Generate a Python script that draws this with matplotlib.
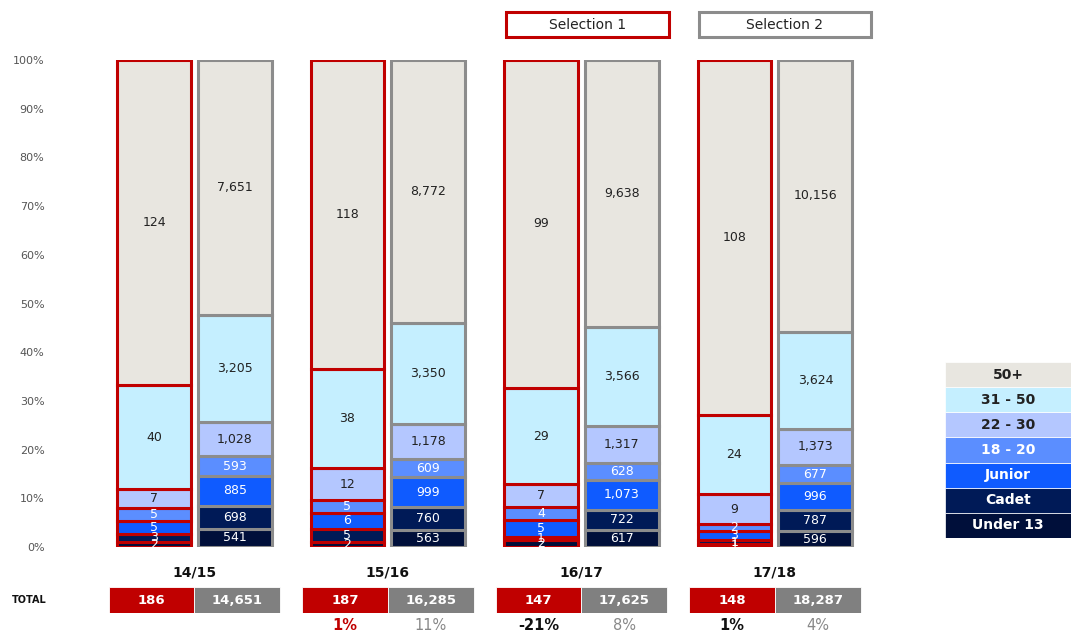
import matplotlib
matplotlib.use("Agg")
import matplotlib.pyplot as plt
from matplotlib.patches import Rectangle
import numpy as np

# age bands, bottom to top
bands = ["Under 13", "Cadet", "Junior", "18 - 20", "22 - 30", "31 - 50", "50+"]
band_colors = ["#000F3A", "#001A57", "#0F5BFF", "#5B8EFF", "#B4C7FF", "#C5EFFF", "#E8E6E0"]
band_text = ["white", "white", "white", "white", "#222222", "#222222", "#222222"]

seasons = ["14/15", "15/16", "16/17", "17/18"]

# Selection 1 counts per season (bottom to top)
sel1 = [
    [2, 3, 5, 5, 7, 40, 124],
    [2, 5, 6, 5, 12, 38, 118],
    [2, 1, 5, 4, 7, 29, 99],
    [1, 1, 3, 2, 9, 24, 108],
]
# Selection 2 counts per season (bottom to top)
sel2 = [
    [541, 698, 885, 593, 1028, 3205, 7651],
    [563, 760, 999, 609, 1178, 3350, 8772],
    [617, 722, 1073, 628, 1317, 3566, 9638],
    [596, 787, 996, 677, 1373, 3624, 10156],
]
total1 = [186, 187, 147, 148]
total2 = [14651, 16285, 17625, 18287]
pct1_colors = ["#C00000", "#111111", "#111111"]

RED = "#C00000"
GREY = "#8C8C8C"

W, H = 1071, 632
fig = plt.figure(figsize=(W / 100, H / 100), dpi=100)

# main axes: pixel x 100..880, y 60..547
ax = fig.add_axes([100 / W, (H - 547) / H, 780 / W, 487 / H])
ax.set_xlim(-0.488, 3.543)
ax.set_ylim(0, 1)
for s in ax.spines.values():
    s.set_visible(False)
ax.set_xticks([])
ax.set_yticks(np.arange(0, 1.01, 0.1))
ax.set_yticklabels([f"{int(round(t * 100))}%" for t in np.arange(0, 1.01, 0.1)])
ax.tick_params(axis="y", length=0, pad=40, labelsize=8, labelcolor="#555555")

x = np.arange(len(seasons))
bw = 0.382
off = 0.209

for data, sign, edge in [(sel1, -1, RED), (sel2, 1, GREY)]:
    for i, vals in enumerate(data):
        tot = sum(vals)
        bottom = 0.0
        for j, v in enumerate(vals):
            h = v / tot
            ax.bar(x[i] + sign * off, h, bw, bottom=bottom, color=band_colors[j],
                   edgecolor=edge, linewidth=2.2)
            ax.text(x[i] + sign * off, bottom + h / 2, f"{v:,}", ha="center", va="center",
                    fontsize=9, color=band_text[j])
            bottom += h

# season labels
for i, s in enumerate(seasons):
    fig.text((100 + (x[i] + 0.488) * 193.5) / W, (H - 573) / H, s, ha="center", va="center",
             fontsize=10, fontweight="bold", color="#111111")

# totals row
tax = fig.add_axes([100 / W, (H - 613) / H, 780 / W, 26 / H])
tax.set_xlim(-0.488, 3.543)
tax.set_ylim(0, 1)
tax.axis("off")
tw = 0.444
tax.bar(x - tw / 2, 1, tw, color=RED, edgecolor="white", linewidth=0.6)
tax.bar(x + tw / 2, 1, tw, color="#808080", edgecolor="white", linewidth=0.6)
for i in range(len(seasons)):
    tax.text(x[i] - tw / 2, 0.5, f"{total1[i]:,}", ha="center", va="center",
             fontsize=9.5, fontweight="bold", color="white")
    tax.text(x[i] + tw / 2, 0.5, f"{total2[i]:,}", ha="center", va="center",
             fontsize=9.5, fontweight="bold", color="white")
fig.text(12 / W, (H - 600) / H, "TOTAL", ha="left", va="center", fontsize=7,
         fontweight="bold", color="#111111")

# year-on-year change
for i in range(1, len(seasons)):
    p1 = total1[i] / total1[i - 1] - 1
    p2 = total2[i] / total2[i - 1] - 1
    tax.text(x[i] - tw / 2, -0.5, f"{p1:.0%}", ha="center", va="center", fontsize=10.5,
             fontweight="bold", color=pct1_colors[i - 1], clip_on=False)
    tax.text(x[i] + tw / 2, -0.5, f"{p2:.0%}", ha="center", va="center", fontsize=10.5,
             color="#888888", clip_on=False)

# selection key boxes
for (x0, x1, label, col) in [(506, 669, "Selection 1", RED), (699, 871, "Selection 2", GREY)]:
    fig.add_artist(Rectangle((x0 / W, (H - 37) / H), (x1 - x0) / W, 25 / H,
                             transform=fig.transFigure, facecolor="white",
                             edgecolor=col, linewidth=2.2))
    fig.text((x0 + x1) / 2 / W, (H - 25) / H, label, ha="center", va="center",
             fontsize=10, color="#222222")

# age band legend
lax = fig.add_axes([945 / W, (H - 538) / H, 126 / W, 176 / H])
lax.set_xlim(0, 1)
lax.set_ylim(-0.5, len(bands) - 0.5)
lax.axis("off")
lax.barh(np.arange(len(bands)), 1, 1, color=band_colors, edgecolor="white", linewidth=0.5)
for j, b in enumerate(bands):
    lax.text(0.5, j, b, ha="center", va="center", fontsize=10, fontweight="bold",
             color=band_text[j])

fig.savefig("out.png", dpi=100)
